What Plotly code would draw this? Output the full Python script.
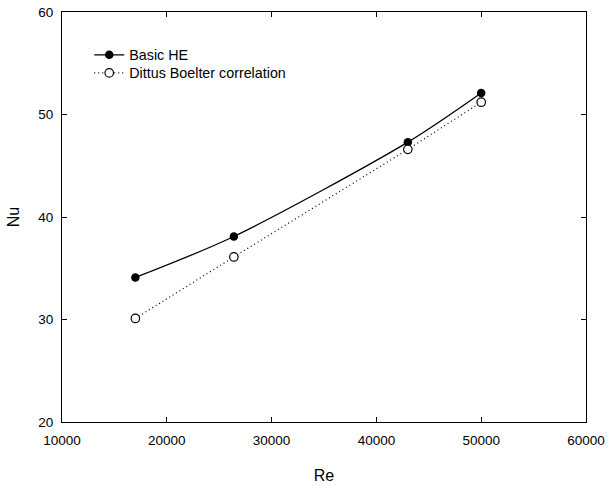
import plotly.graph_objects as go

re_basic = [17000, 26400, 43000, 50000]
nu_basic = [34.1, 38.1, 47.3, 52.1]
re_db = [17000, 26400, 43000, 50000]
nu_db = [30.1, 36.1, 46.6, 51.2]

x_ticks = [10000, 20000, 30000, 40000, 50000, 60000]
y_ticks = [20, 30, 40, 50, 60]

FONT = "Liberation Sans, Arial, sans-serif"

fig = go.Figure()
fig.add_trace(go.Scatter(
    x=re_basic, y=nu_basic, name="Basic HE", mode="lines+markers",
    line=dict(color="black", width=1.3, shape="spline", smoothing=0.8),
    marker=dict(symbol="circle", size=8.5, color="black"),
    legend="legend",
))
fig.add_trace(go.Scatter(
    x=re_db, y=nu_db, name="Dittus Boelter correlation", mode="lines+markers",
    line=dict(color="black", width=1.2, dash="1px,3px"),
    marker=dict(symbol="circle", size=8.5, color="white", line=dict(color="black", width=1.2)),
    legend="legend2",
))

axis_common = dict(
    showgrid=False, zeroline=False, showline=True, linecolor="black", linewidth=1,
    mirror="ticks", ticks="inside", ticklen=5, tickcolor="black", tickwidth=1,
    tickfont=dict(family=FONT, size=13.5, color="black"), automargin=False,
)
fig.update_xaxes(range=[10000, 60000], tickvals=x_ticks, ticktext=[str(v) for v in x_ticks],
                 ticklabelstandoff=6,
                 title=dict(text="Re", font=dict(family=FONT, size=16, color="black"), standoff=22),
                 **axis_common)
fig.update_yaxes(range=[20, 60], tickvals=y_ticks, ticktext=[str(v) for v in y_ticks],
                 ticklabelstandoff=5,
                 title=dict(text="Nu", font=dict(family=FONT, size=16, color="black"), standoff=14),
                 **axis_common)

leg_common = dict(xanchor="left", yanchor="middle", bgcolor="rgba(0,0,0,0)",
                  font=dict(family=FONT, size=14.3, color="black"), itemwidth=30)
fig.update_layout(
    width=608, height=486,
    margin=dict(l=62, r=22, t=12, b=64),
    paper_bgcolor="white", plot_bgcolor="white",
    font=dict(family=FONT, size=13.5, color="black"),
    showlegend=True,
    legend=dict(x=0.052, y=0.895, **leg_common),
    legend2=dict(x=0.052, y=0.851, **leg_common),
)

fig.write_html("out.html")
